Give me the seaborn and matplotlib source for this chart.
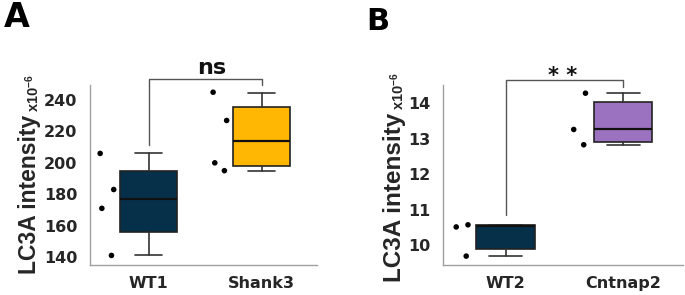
import numpy as np
import pandas as pd
import matplotlib
matplotlib.use("Agg")
import matplotlib.pyplot as plt
import seaborn as sns

# ---------------- data ----------------
groups_a = ["WT1", "Shank3"]
wt1_points = [206, 183, 171, 141]
shank3_points = [245, 227, 200, 195]
# box summaries: lower whisker, Q1, median, Q3, upper whisker
wt1_box = [141, 156, 177, 194.5, 206]
shank3_box = [195, 198, 213.7, 235.6, 244.5]
yticks_a = [140, 160, 180, 200, 220, 240]
sig_a = "ns"

groups_b = ["WT2", "Cntnap2"]
wt2_points = [10.52, 10.58, 9.70]
cntnap2_points = [13.26, 14.28, 12.83]
wt2_box = [9.70, 9.90, 10.55, 10.57, 10.58]
cntnap2_box = [12.83, 12.92, 13.26, 14.02, 14.28]
yticks_b = [10, 11, 12, 13, 14]
sig_b = "* *"

ylabel_main = "LC3A intensity"
ylabel_sub = "x10$^{-6}$"

# ---------------- style ----------------
sns.set_style("white")
plt.rcParams["font.family"] = ["DejaVu Sans"]
plt.rcParams["mathtext.default"] = "regular"

W, H = 685, 295
fig = plt.figure(figsize=(W / 100, H / 100), dpi=100)

navy = "#06304A"
amber = "#FFB703"
purple = "#9B72BF"
spine_col = "#A0A0A0"
txt_col = "#262626"

jit_a = [-0.43, -0.31, -0.415, -0.33]
jit_b = [-0.42, -0.32, -0.335]


def fx(px):
    return px / W


def fy(py):
    return 1 - py / H


def panel(ax, groups, pts, boxes, colors, jit, yticks, ylim, xlim, capw):
    stats = []
    for b in boxes:
        stats.append(dict(whislo=b[0], q1=b[1], med=b[2], q3=b[3], whishi=b[4], fliers=[]))
    bp = ax.bxp(stats, positions=[0, 1], widths=0.5, patch_artist=True,
                showfliers=False, manage_ticks=False, capwidths=capw,
                boxprops=dict(edgecolor="#222222", linewidth=1.2),
                medianprops=dict(color="#111111", linewidth=1.6),
                whiskerprops=dict(color="#333333", linewidth=1.2),
                capprops=dict(color="#333333", linewidth=1.2))
    for patch, c in zip(bp["boxes"], colors):
        patch.set_facecolor(c)
    rows = []
    for gi, (g, vals) in enumerate(zip(groups, pts)):
        for j, v in enumerate(vals):
            rows.append(dict(group=g, value=v, xpos=gi + jit[j]))
    df = pd.DataFrame(rows)
    sns.scatterplot(data=df, x="xpos", y="value", color="black", s=16,
                    edgecolor="none", ax=ax, zorder=5)
    ax.set_xlim(*xlim)
    ax.set_ylim(*ylim)
    ax.set_xticks([0, 1])
    ax.set_xticklabels(groups)
    ax.set_yticks(yticks)
    ax.set_yticklabels([str(t) for t in yticks])
    ax.set_xlabel("")
    ax.set_ylabel("")
    for s in ["top", "right"]:
        ax.spines[s].set_visible(False)
    for s in ["left", "bottom"]:
        ax.spines[s].set_color(spine_col)
        ax.spines[s].set_linewidth(1.0)
    ax.tick_params(axis="both", which="both", color=spine_col, width=1.0,
                   labelcolor=txt_col)
    ax.tick_params(axis="y", length=5, pad=4)
    ax.tick_params(axis="x", length=4, pad=4)
    for lab in ax.get_yticklabels():
        lab.set_fontweight("bold")
        lab.set_fontsize(11.5)
    for lab in ax.get_xticklabels():
        lab.set_fontweight("bold")
        lab.set_fontsize(11.5)
    ax.set_facecolor("white")


# axes A
axA = fig.add_axes([fx(90), fy(265), fx(317) - fx(90), fy(85) - fy(265)])
panel(axA, groups_a, [wt1_points, shank3_points], [wt1_box, shank3_box],
      [navy, amber], jit_a, yticks_a, (134.9, 249.6), (-0.52, 1.49), 0.24)

# axes B
axB = fig.add_axes([fx(443.3), fy(265), fx(683) - fx(443.3), fy(85) - fy(265)])
panel(axB, groups_b, [wt2_points, cntnap2_points], [wt2_box, cntnap2_box],
      [navy, purple], jit_b, yticks_b, (9.45, 14.51), (-0.53, 1.51), 0.28)

# significance brackets
brk = dict(color="#555555", linewidth=1.0, clip_on=False)
axA.plot([0, 0, 1, 1], [211.3, 253.4, 253.4, 249.6], **brk)
axA.text(0.556, 256.6, sig_a, ha="center", va="baseline", fontsize=16,
         fontweight="bold", color="#111111", clip_on=False)
axB.plot([0, 0, 1, 1], [10.85, 14.65, 14.65, 14.46], **brk)
axB.text(0.487, 14.59, sig_b, ha="center", va="baseline", fontsize=15,
         fontweight="bold", color="#111111", clip_on=False)

# y labels
lab_font = ["Liberation Sans", "DejaVu Sans"]
fig.text(fx(36), fy(194), ylabel_main, rotation=90, rotation_mode="anchor",
         ha="center", va="baseline", fontsize=16.5, fontweight="bold",
         family=lab_font, color=txt_col)
fig.text(fx(39), fy(112), ylabel_sub, rotation=90, rotation_mode="anchor",
         ha="left", va="baseline", fontsize=10.5, fontweight="bold",
         family=lab_font, color=txt_col)
fig.text(fx(401.5), fy(197), ylabel_main, rotation=90, rotation_mode="anchor",
         ha="center", va="baseline", fontsize=17.5, fontweight="bold",
         family=lab_font, color=txt_col)
fig.text(fx(403.5), fy(110), ylabel_sub, rotation=90, rotation_mode="anchor",
         ha="left", va="baseline", fontsize=10.5, fontweight="bold",
         family=lab_font, color=txt_col)

# panel letters
fig.text(fx(4), fy(27), "A", ha="left", va="baseline", fontsize=24,
         fontweight="heavy", color="black")
fig.text(fx(366), fy(30), "B", ha="left", va="baseline", fontsize=22,
         fontweight="heavy", color="black")

fig.savefig("out.png", dpi=100, facecolor="white")
